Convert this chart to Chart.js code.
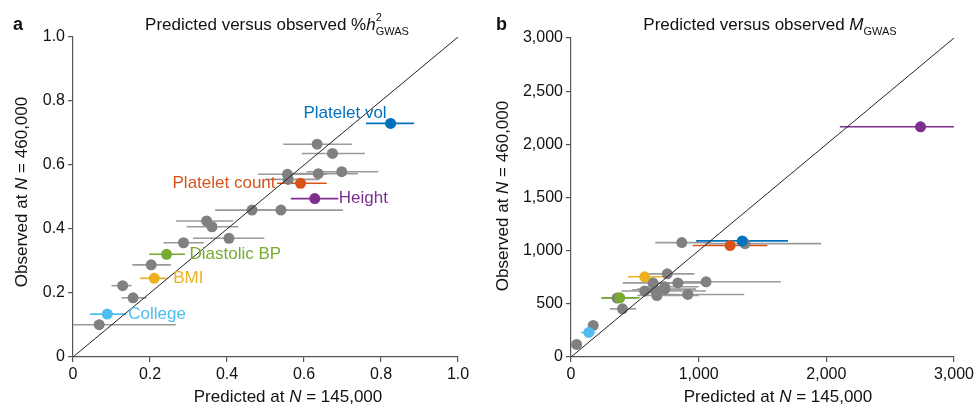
<!DOCTYPE html>
<html>
<head>
<meta charset="utf-8">
<script src="https://cdn.jsdelivr.net/npm/chart.js@4.4.1/dist/chart.umd.min.js"></script>
<style>
  html, body { margin: 0; padding: 0; background: #fff; }
  #wrap { position: relative; width: 977px; height: 409px; }
  .panel { position: absolute; top: 0; height: 409px; }
  #panelA { left: 0; width: 490px; }
  #panelB { left: 490px; width: 487px; }
</style>
</head>
<body>
<div id="wrap">
  <div class="panel" id="panelA"><canvas id="chartA"></canvas></div>
  <div class="panel" id="panelB"><canvas id="chartB"></canvas></div>
</div>
<script>
// trait names for the coloured points (same order in both panels)
const traitNames = ["Platelet vol", "Platelet count", "Height", "Diastolic BP", "BMI", "College"];

// panel a : %h2 GWAS
const aGrayX  = [0.634, 0.674, 0.557, 0.559, 0.698, 0.637, 0.465, 0.540, 0.347, 0.361, 0.405, 0.287, 0.203, 0.129, 0.156, 0.068];
const aGrayY  = [0.665, 0.636, 0.571, 0.555, 0.579, 0.573, 0.459, 0.459, 0.425, 0.407, 0.371, 0.357, 0.288, 0.223, 0.185, 0.101];
const aGrayLo = [0.546, 0.594, 0.480, 0.500, 0.607, 0.560, 0.369, 0.450, 0.267, 0.295, 0.312, 0.235, 0.154, 0.100, 0.126, 0.000];
const aGrayHi = [0.724, 0.758, 0.660, 0.640, 0.793, 0.740, 0.560, 0.701, 0.416, 0.429, 0.497, 0.340, 0.254, 0.152, 0.191, 0.267];
const aTraitX  = [0.825, 0.591, 0.628, 0.243, 0.211, 0.089];
const aTraitY  = [0.730, 0.543, 0.495, 0.321, 0.246, 0.134];
const aTraitLo = [0.761, 0.530, 0.566, 0.198, 0.174, 0.044];
const aTraitHi = [0.886, 0.659, 0.689, 0.291, 0.243, 0.138];
const aXTicks = [0, 0.2, 0.4, 0.6, 0.8, 1.0];
const aYTicks = [0, 0.2, 0.4, 0.6, 0.8, 1.0];

// panel b : M GWAS
const bGrayX  = [868, 1363, 754, 642, 733, 837, 1058, 577, 655, 736, 673, 915, 361, 403, 174, 44];
const bGrayY  = [1076, 1066, 782, 697, 660, 697, 707, 620, 632, 638, 578, 588, 554, 453, 297, 118];
const bGrayLo = [661, 1050, 562, 406, 560, 616, 874, 395, 480, 520, 520, 694, 239, 304, 140, 20];
const bGrayHi = [1100, 1960, 967, 889, 1000, 1097, 1643, 1058, 860, 980, 1000, 1357, 520, 512, 210, 70];
const bTraitX  = [1342, 1246, 2738, 382, 577, 140];
const bTraitY  = [1092, 1048, 2165, 557, 754, 231];
const bTraitLo = [980, 954, 2106, 239, 445, 80];
const bTraitHi = [1700, 1539, 3000, 538, 718, 190];
const bXTicks = [0, 1000, 2000, 3000];
const bYTicks = [0, 500, 1000, 1500, 2000, 2500, 3000];

const traitColors = ["#0072BD", "#D95319", "#7E2F8E", "#77AC30", "#EDB120", "#4DBEEE"];
const FONT = '"Liberation Sans", Arial, sans-serif';

// measure / draw a run of text pieces (italic, sub, super)
function richWidth(ctx, parts) {
  let w = 0;
  for (const p of parts) {
    ctx.font = (p.italic ? "italic " : "") + (p.size || 17) + "px " + FONT;
    if (!p.stay) w += ctx.measureText(p.t).width;
  }
  return w;
}
function drawRich(ctx, parts, x, y) {
  let cx = x;
  for (const p of parts) {
    ctx.font = (p.italic ? "italic " : "") + (p.size || 17) + "px " + FONT;
    ctx.fillText(p.t, cx, y + (p.dy || 0));
    if (!p.stay) cx += ctx.measureText(p.t).width;
  }
}

const xTitle = [{ t: "Predicted at " }, { t: "N", italic: true }, { t: " = 145,000" }];
const yTitle = [{ t: "Observed at " }, { t: "N", italic: true }, { t: " = 460,000" }];

function makePanel(id, p) {
  const pts = (xs, ys) => xs.map((x, i) => ({ x: x, y: ys[i] }));
  const max = p.xTicks[p.xTicks.length - 1];

  const textPlugin = {
    id: "panelText",
    beforeDatasetsDraw(chart) {
      const ctx = chart.ctx;
      const xs = chart.scales.x, ys = chart.scales.y;
      ctx.save();
      ctx.lineWidth = 1.6;
      const bar = (lo, hi, y, col) => {
        ctx.strokeStyle = col;
        ctx.beginPath();
        ctx.moveTo(xs.getPixelForValue(lo), ys.getPixelForValue(y));
        ctx.lineTo(xs.getPixelForValue(hi), ys.getPixelForValue(y));
        ctx.stroke();
      };
      p.grayY.forEach((y, i) => bar(p.grayLo[i], p.grayHi[i], y, "#9a9a9a"));
      p.traitY.forEach((y, i) => bar(p.traitLo[i], p.traitHi[i], y, traitColors[i]));
      ctx.restore();
    },
    afterDraw(chart) {
      const ctx = chart.ctx;
      ctx.save();
      ctx.fillStyle = "#111";
      ctx.textBaseline = "alphabetic";
      ctx.textAlign = "left";
      // panel letter
      ctx.font = "bold 18px " + FONT;
      ctx.fillText(p.letter, p.letterX, 30);
      // title
      drawRich(ctx, p.title, p.titleX - richWidth(ctx, p.title) / 2, 30);
      // x title
      drawRich(ctx, xTitle, 288 - richWidth(ctx, xTitle) / 2, 402);
      // y title
      ctx.translate(p.yTitleX, p.yTitleY);
      ctx.rotate(-Math.PI / 2);
      ctx.textBaseline = "middle";
      drawRich(ctx, yTitle, -richWidth(ctx, yTitle) / 2, 0);
      ctx.restore();

      if (p.labels) {
        const xs = chart.scales.x, ys = chart.scales.y;
        ctx.save();
        ctx.font = "17px " + FONT;
        ctx.textBaseline = "middle";
        traitNames.forEach((name, i) => {
          const lab = p.labels[i];
          ctx.fillStyle = traitColors[i];
          ctx.textAlign = lab.align;
          ctx.fillText(name, xs.getPixelForValue(p.traitX[i]) + lab.dx,
                       ys.getPixelForValue(p.traitY[i]) + lab.dy);
        });
        ctx.restore();
      }
    }
  };

  const axis = (ticks, w, h) => ({
    type: "linear",
    min: 0,
    max: max,
    afterBuildTicks: (s) => { s.ticks = ticks.map((v) => ({ value: v })); },
    afterFit: (s) => { if (w) s.width = w; if (h) s.height = h; },
    border: { color: "#555", width: 1.2 },
    grid: { drawOnChartArea: false, drawTicks: true, tickLength: 5, color: "#555", lineWidth: 1.2 },
    ticks: {
      color: "#111",
      padding: 3,
      maxRotation: 0,
      font: { family: FONT, size: 16 },
      callback: p.fmt
    }
  });

  return new Chart(document.getElementById(id), {
    type: "scatter",
    data: {
      datasets: [
        {
          type: "line",
          data: [{ x: 0, y: 0 }, { x: max, y: max }],
          borderColor: "#222",
          borderWidth: 1,
          pointRadius: 0,
          order: 0
        },
        {
          data: pts(p.traitX, p.traitY),
          backgroundColor: traitColors,
          borderWidth: 0,
          pointRadius: 5.5,
          order: 1
        },
        {
          data: pts(p.grayX, p.grayY),
          backgroundColor: "#808080",
          borderWidth: 0,
          pointRadius: 5.5,
          order: 2
        }
      ]
    },
    options: {
      responsive: true,
      maintainAspectRatio: false,
      animation: false,
      layout: { padding: { top: p.padTop, right: p.padRight, left: 0, bottom: 0 } },
      plugins: { legend: { display: false }, tooltip: { enabled: false } },
      scales: {
        x: axis(p.xTicks, 0, 52),
        y: axis(p.yTicks, p.yWidth, 0)
      }
    },
    plugins: [textPlugin]
  });
}

makePanel("chartA", {
  letter: "a", letterX: 13,
  title: [
    { t: "Predicted versus observed %" },
    { t: "h", italic: true },
    { t: "2", size: 11, dy: -9, stay: true },
    { t: "GWAS", size: 11, dy: 5 }
  ],
  titleX: 277,
  yTitleX: 22, yTitleY: 192,
  xTicks: aXTicks, yTicks: aYTicks,
  fmt: (v) => (v === 0 ? "0" : v.toFixed(1)),
  grayX: aGrayX, grayY: aGrayY, grayLo: aGrayLo, grayHi: aGrayHi,
  traitX: aTraitX, traitY: aTraitY, traitLo: aTraitLo, traitHi: aTraitHi,
  labels: [
    { align: "right", dx: -4, dy: -10 },
    { align: "right", dx: -25, dy: 0 },
    { align: "left", dx: 24, dy: 0 },
    { align: "left", dx: 23, dy: 0 },
    { align: "left", dx: 19, dy: 0 },
    { align: "left", dx: 21, dy: 0 }
  ],
  padTop: 37, padRight: 32, yWidth: 73
});

makePanel("chartB", {
  letter: "b", letterX: 6,
  title: [
    { t: "Predicted versus observed " },
    { t: "M", italic: true },
    { t: "GWAS", size: 11, dy: 5 }
  ],
  titleX: 280,
  yTitleX: 13, yTitleY: 196,
  xTicks: bXTicks, yTicks: bYTicks,
  fmt: (v) => v.toLocaleString("en-US"),
  grayX: bGrayX, grayY: bGrayY, grayLo: bGrayLo, grayHi: bGrayHi,
  traitX: bTraitX, traitY: bTraitY, traitLo: bTraitLo, traitHi: bTraitHi,
  labels: null,
  padTop: 38, padRight: 21, yWidth: 81
});
</script>
</body>
</html>
